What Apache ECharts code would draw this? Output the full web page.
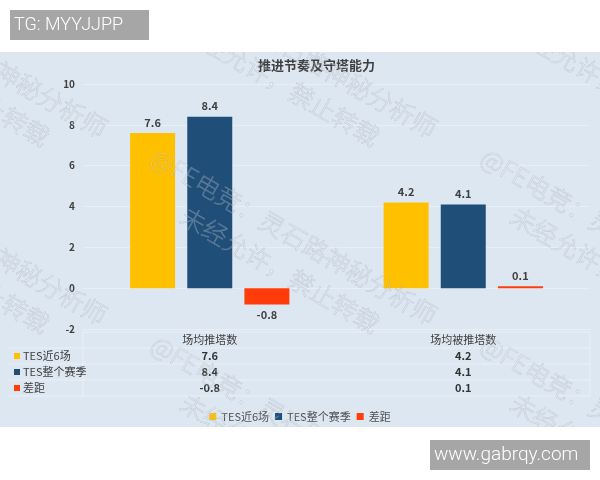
<!DOCTYPE html>
<html>
<head>
<meta charset="utf-8">
<script src="https://cdn.jsdelivr.net/npm/echarts@6/dist/echarts.min.js"></script>
<style>
html,body{margin:0;padding:0;background:#fff;}
#c{width:600px;height:480px;}
</style>
</head>
<body>
<div id="c"></div>
<script>
const categories = ['场均推塔数', '场均被推塔数'];
const seriesNames = ['TES近6场', 'TES整个赛季', '差距'];
const recent6 = [7.6, 4.2];
const season = [8.4, 4.1];
const diff = [-0.8, 0.1];
const yMin = -2, yMax = 10, yStep = 2;
const titleText = '推进节奏及守塔能力';
const tagText = 'TG: MYYJJPP';
const siteText = 'www.gabrqy.com';
const wmLine1 = '@FE电竞：灵石路神秘分析师';
const wmLine2 = '未经允许，禁止转载';

const colors = ['#FFC000', '#1F4E79', '#FF3C0A'];
const FONT = '"Noto Sans CJK SC", "Noto Sans", sans-serif';
const txt = '#404040';

const chart = echarts.init(document.getElementById('c'));

const seriesData = [recent6, season, diff];
const series = seriesNames.map((name, i) => ({
  name: name,
  type: 'bar',
  barWidth: 45,
  barGap: '27%',
  itemStyle: { color: colors[i] },
  label: {
    show: true,
    position: 'top',
    distance: 5,
    fontSize: 11,
    fontWeight: 'bold',
    color: txt,
    fontFamily: FONT
  },
  data: seriesData[i].map(v => v < 0 ? { value: v, label: { position: 'bottom' } } : v)
}));

chart.setOption({
  backgroundColor: '#ffffff',
  animation: false,
  title: {
    text: titleText,
    left: 258,
    top: 59,
    padding: 0,
    textStyle: { fontSize: 13, fontWeight: 'bold', color: txt, fontFamily: FONT }
  },
  legend: {
    data: seriesNames,
    left: 'center',
    top: 406,
    icon: 'rect',
    itemWidth: 7,
    itemHeight: 7,
    itemGap: 6,
    textStyle: { fontSize: 11, color: '#505050', fontFamily: FONT }
  },
  grid: { left: 83, right: 10, top: 84, bottom: 151, containLabel: false },
  xAxis: {
    type: 'category',
    data: categories,
    axisLine: { show: false, onZero: false },
    axisTick: { show: false },
    axisLabel: { show: false }
  },
  yAxis: {
    type: 'value',
    min: yMin,
    max: yMax,
    interval: yStep,
    axisLine: { show: false },
    axisTick: { show: false },
    axisLabel: { fontSize: 10, fontWeight: 'bold', color: txt, margin: 8, fontFamily: FONT },
    splitLine: { lineStyle: { color: '#e8eef6', width: 1 } }
  },
  series: series
});

const g = [];
g.push({ type: 'rect', z: -1, silent: true, shape: { x: 0, y: 52, width: 600, height: 375 }, style: { fill: '#dde7f2' } });

// Table
const rowYs = [356, 372, 388];
const headerY = 340;
const lineCol = 'rgba(255,255,255,0.4)';
[332, 348, 364, 380, 396].forEach((y, k) => {
  g.push({ type: 'line', z: 1, silent: true, shape: { x1: k === 0 ? 83 : 8, y1: y, x2: 590, y2: y }, style: { stroke: lineCol, lineWidth: 1 } });
});
g.push({ type: 'line', z: 1, silent: true, shape: { x1: 83, y1: 332, x2: 83, y2: 396 }, style: { stroke: lineCol, lineWidth: 1 } });
g.push({ type: 'line', z: 1, silent: true, shape: { x1: 590, y1: 332, x2: 590, y2: 396 }, style: { stroke: lineCol, lineWidth: 1 } });

categories.forEach((cat, ci) => {
  const x = chart.convertToPixel({ xAxisIndex: 0 }, cat);
  g.push({ type: 'text', z: 5, silent: true, x: x, y: headerY,
    style: { text: cat, fill: txt, font: '11px ' + FONT, textAlign: 'center', textVerticalAlign: 'middle' } });
  seriesData.forEach((arr, si) => {
    g.push({ type: 'text', z: 5, silent: true, x: x, y: rowYs[si],
      style: { text: String(arr[ci]), fill: '#333', font: 'bold 11px ' + FONT, textAlign: 'center', textVerticalAlign: 'middle' } });
  });
});
seriesNames.forEach((name, si) => {
  g.push({ type: 'rect', z: 5, silent: true, shape: { x: 14, y: rowYs[si] - 3, width: 6, height: 6 }, style: { fill: colors[si] } });
  g.push({ type: 'text', z: 5, silent: true, x: 23, y: rowYs[si],
    style: { text: name, fill: txt, font: '11px ' + FONT, textAlign: 'left', textVerticalAlign: 'middle' } });
});

// Watermarks
const ang = -Math.PI / 6;
const wmStyle = { font: '300 25px ' + FONT, fill: 'rgba(255,255,255,0.22)', stroke: 'rgba(120,130,145,0.32)', lineWidth: 0.6, textVerticalAlign: 'middle' };
for (let i = -1; i <= 1; i++) {
  for (let j = -1; j <= 1; j++) {
    const ox = 153 + i * 330, oy = 155 + j * 187;
    g.push({
      type: 'group', x: ox, y: oy, rotation: ang, z: 100, silent: true,
      children: [
        { type: 'text', z: 100, x: 0, y: 0, style: Object.assign({ text: wmLine1 }, wmStyle) },
        { type: 'text', z: 100, x: 55, y: 36, style: Object.assign({ text: wmLine2 }, wmStyle) }
      ]
    });
  }
}

// White margins and tag boxes
g.push({ type: 'rect', z: 200, silent: true, shape: { x: 0, y: 0, width: 600, height: 52 }, style: { fill: '#fff' } });
g.push({ type: 'rect', z: 200, silent: true, shape: { x: 0, y: 427, width: 600, height: 53 }, style: { fill: '#fff' } });
g.push({ type: 'rect', z: 201, silent: true, shape: { x: 10, y: 10, width: 139, height: 30 }, style: { fill: '#a6a6a6' } });
g.push({ type: 'text', z: 202, silent: true, x: 14, y: 25, style: { text: tagText, fill: '#fff', font: '300 18px Roboto, "Liberation Sans", sans-serif', textVerticalAlign: 'middle' } });
g.push({ type: 'rect', z: 201, silent: true, shape: { x: 430, y: 440, width: 160, height: 30 }, style: { fill: '#a6a6a6' } });
g.push({ type: 'text', z: 202, silent: true, x: 434, y: 455, style: { text: siteText, fill: '#fff', font: '300 19px Roboto, "Liberation Sans", sans-serif', textVerticalAlign: 'middle' } });

chart.setOption({ graphic: { elements: g } });
</script>
</body>
</html>
